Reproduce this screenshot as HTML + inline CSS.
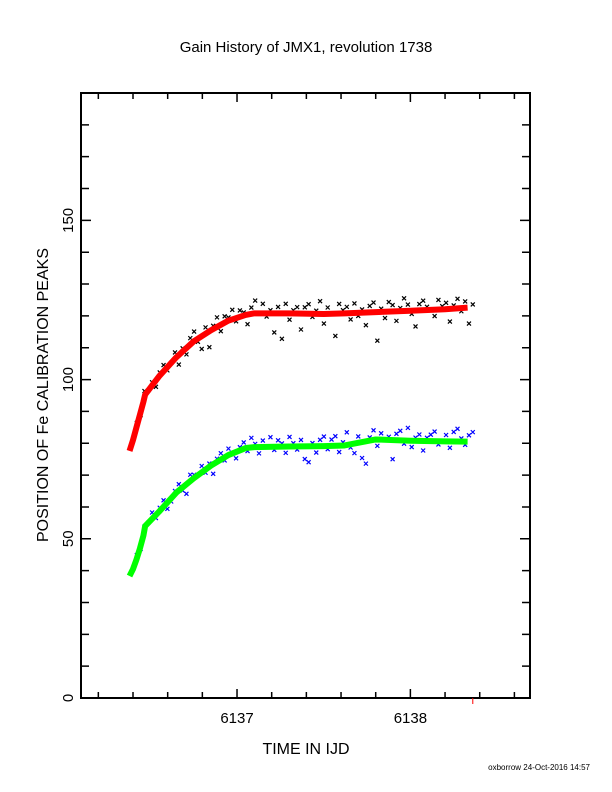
<!DOCTYPE html>
<html><head><meta charset="utf-8"><style>
body{margin:0;background:#fff}
svg{display:block;font-family:"Liberation Sans",sans-serif}
</style></head><body>
<svg id="chart" width="612" height="792" viewBox="0 0 612 792" xmlns="http://www.w3.org/2000/svg">
<rect width="612" height="792" fill="#fff"/>
<text x="306" y="52" font-size="15" text-anchor="middle">Gain History of JMX1, revolution 1738</text>
<text transform="translate(48,395) rotate(-90)" font-size="16" text-anchor="middle">POSITION OF Fe CALIBRATION PEAKS</text>
<text x="306" y="754" font-size="16" text-anchor="middle">TIME IN IJD</text>
<text x="590" y="770" font-size="8" text-anchor="end">oxborrow 24-Oct-2016 14:57</text>
<g id="axes"></g>
<g id="marks"></g>
</svg>
<script>
const xTicksMajor=[6137,6138];
const xTickLabels=["6137","6138"];
const yTicksMajor=[0,50,100,150];
const yTickLabels=["0","50","100","150"];
const fitT=[6136.38,6136.40,6136.42,6136.44,6136.46,6136.47,6136.55,6136.65,6136.75,6136.85,6136.95,6137.05,6137.10,6137.30,6137.50,6137.62,6137.80,6138.00,6138.20,6138.33];
const fitRed=[77.6,81,85,89,93,95.3,101,107,112,115.5,118.5,120.3,120.8,120.8,120.6,120.8,121.2,121.6,122.1,122.6];
const fitGreen=[38.3,40.5,43.5,47,51,54,58.5,64.5,69,73,76.3,78.5,78.8,79,79.1,79.3,81.2,80.8,80.6,80.5];
const blackRes=[0,1,-1,2,0,1,-2,1,2,-1,0,2,-3,1,-2,2,3,-1,-4,2,-5,1,3,-2,2,1,3,-1,2,1,-3,2,4,0,3,-1,1,-6,2,-8,3,-2,1,2,-5,2,3,-1,1,4,-3,2,0,-7,3,1,2,-2,3,-1,1,-4,2,3,-9,1,-2,3,2,-3,1,4,2,-1,-5,2,3,1,0,-2,3,1,2,-4,1,3,-1,2,-5,1];
const blueRes=[0,1,-1,1,0,2,-1,1,2,-2,-1,1,2,-1,-3,2,1,0,2,-1,1,-3,1,2,-1,2,0,-2,1,2,-1,3,1,-2,2,0,3,-1,2,1,-2,3,1,-1,2,-4,-5,1,-2,2,3,-1,2,3,-2,1,4,-1,-3,2,-5,-7,1,3,-2,2,0,1,-6,2,3,-1,4,-2,1,2,-3,1,2,3,-1,0,2,-2,3,4,1,-1,2,3];
const X0=6136.1,X1=6138.69,Y0=0,Y1=190,L=81,R=530,T=93,B=698;
function sx(t){return L+(t-X0)/(X1-X0)*(R-L);}
function sy(v){return B-(v-Y0)/(Y1-Y0)*(B-T);}
const NS="http://www.w3.org/2000/svg";
function mk(tag,attrs,parent){const e=document.createElementNS(NS,tag);for(const k in attrs)e.setAttribute(k,attrs[k]);parent.appendChild(e);return e;}
const axes=document.getElementById('axes'),marks=document.getElementById('marks');
const frame=mk('rect',{x:L,y:T,width:R-L,height:B-T,fill:'none',stroke:'#000','stroke-width':2},axes);


// x ticks
for(let t=6136.2;t<6138.7;t+=0.2){
  const maj=xTicksMajor.some(m=>Math.abs(m-t)<1e-6);const len=maj?9:6;const x=sx(t);
  const tk=mk('path',{d:`M${x},${B}v${-len}M${x},${T}v${len}`,stroke:'#000','stroke-width':1.5},axes);
  
  
}
xTicksMajor.forEach((t,i)=>{const lb=mk('text',{x:sx(t),y:B+25,'font-size':15,'text-anchor':'middle'},axes);lb.textContent=xTickLabels[i];
  
  });
// y ticks
for(let v=10;v<190;v+=10){
  const maj=v%50===0;const len=maj?10:8;const y=sy(v);
  const tk=mk('path',{d:`M${L},${y}h${len}M${R},${y}h${-len}`,stroke:'#000','stroke-width':1.5},axes);
  
  
}
yTicksMajor.forEach((v,i)=>{const y=sy(v);const lb=mk('text',{transform:`translate(73,${y}) rotate(-90)`,'font-size':15,'text-anchor':'middle'},axes);lb.textContent=yTickLabels[i];
  
  });
const rt=mk('path',{d:`M${sx(6138.36)},${B}v6`,stroke:'#f00','stroke-width':1},axes);


function fitAt(arr,t){for(let i=0;i<fitT.length-1;i++){if(t<=fitT[i+1])return arr[i]+(arr[i+1]-arr[i])*(t-fitT[i])/(fitT[i+1]-fitT[i]);}return arr[arr.length-1];}
function scatter(res,fit,color,name){
  const n=res.length;
  res.forEach((r,i)=>{const t=fitT[0]+0.02+(fitT[fitT.length-1]+0.03-fitT[0]-0.02)*i/(n-1);const x=sx(t),y=sy(fitAt(fit,t)+r);
    const p=mk('path',{d:`M${x-2},${y-2}l4,4M${x+2},${y-2}l-4,4`,stroke:color,'stroke-width':1.2},marks);
    
    });
}
scatter(blackRes,fitRed,'#000','scatter-point-upper');
scatter(blueRes,fitGreen,'#00f','scatter-point-lower');
function fitLine(arr,color,name){
  const d=fitT.map((t,i)=>(i?'L':'M')+sx(t)+','+sy(arr[i])).join('');
  const p=mk('path',{d:d,fill:'none',stroke:color,'stroke-width':6,'stroke-linejoin':'round'},marks);
  
  
}
fitLine(fitRed,'#f00','fit-line-upper');
fitLine(fitGreen,'#0f0','fit-line-lower');
</script>
</body></html>
